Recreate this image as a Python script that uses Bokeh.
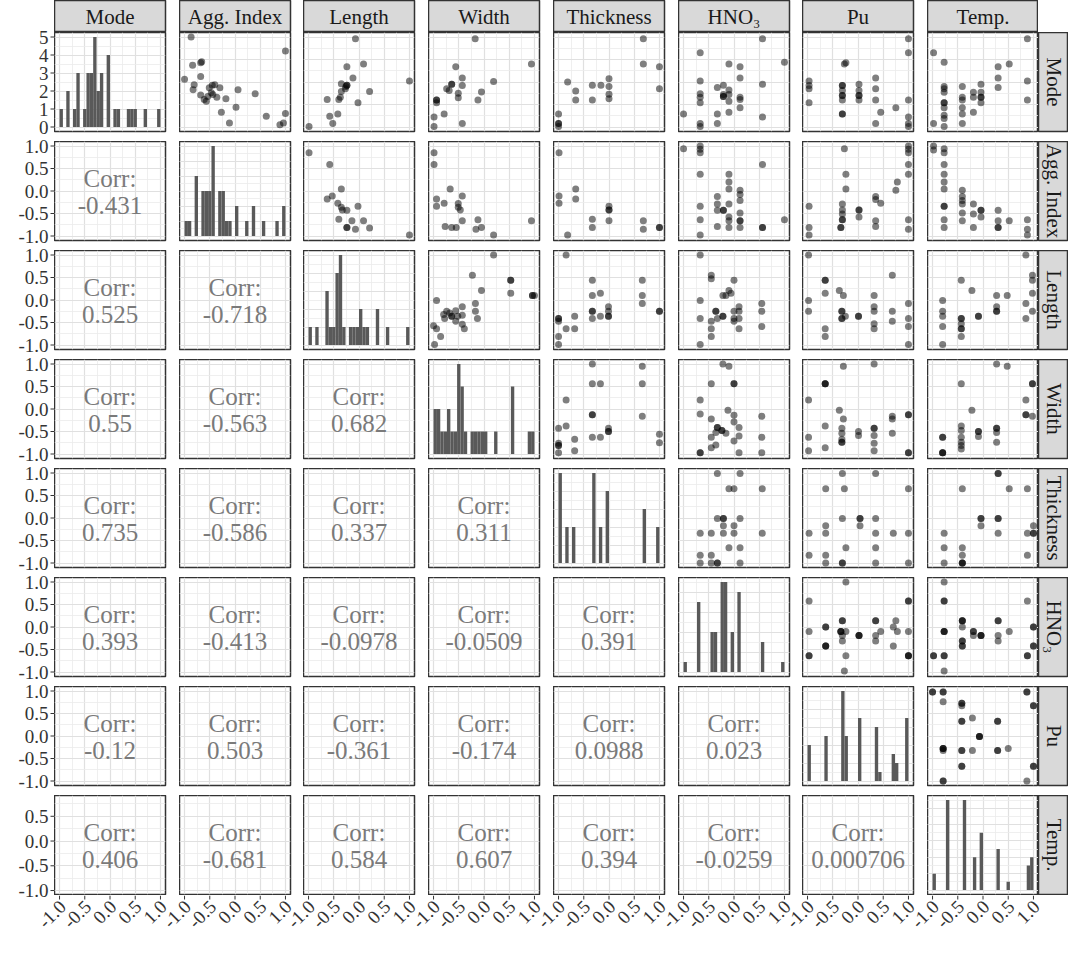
import math
from bokeh.plotting import figure
from bokeh.models import FixedTicker, BasicTicker, Range1d, GridBox
from bokeh.core.properties import value
from bokeh.embed import file_html
from bokeh.resources import INLINE

# ---------------- data ----------------
variables = ["Mode", "Agg. Index", "Length", "Width", "Thickness", "HNO\u2083", "Pu", "Temp."]

# histogram counts, 30 bins over [-1, 1]
hist_mode = [1,0,2,0,1,3,0,1,3,3,5,2,3,0,4,0,1,1,0,0,1,1,1,0,0,1,0,0,0,1]
hist_agg = [1,1,0,4,0,3,3,3,6,0,3,3,1,1,0,2,0,0,1,0,2,0,0,1,0,0,0,1,0,2]
hist_length = [1,0,1,0,0,3,1,1,4,5,1,0,1,1,1,2,1,1,0,0,2,0,0,1,0,0,0,0,0,1]
hist_width = [2,2,1,1,2,1,1,4,3,1,0,1,1,1,1,1,0,0,1,0,0,0,0,3,0,0,0,0,1,1]
hist_thick = [5,0,2,0,2,0,0,0,0,0,5,0,2,0,4,0,0,0,0,0,0,0,0,0,0,3,0,0,0,2]
hist_hno3 = [1,0,0,0,7,0,0,0,4,4,0,9,9,0,4,0,8,0,0,0,0,0,0,3,0,0,0,0,0,1]
hist_pu = [4,0,0,0,0,5,0,0,0,0,10,5,0,0,0,7,0,0,0,0,6,1,0,0,0,3,2,0,0,7]
hist_temp = [2,0,0,0,11,0,0,0,0,11,0,0,4,0,7,0,0,0,0,5,0,0,1,0,0,0,0,0,3,4]

# correlation labels (lower triangle, row by row)
corr_agg = ["-0.431"]
corr_length = ["0.525", "-0.718"]
corr_width = ["0.55", "-0.563", "0.682"]
corr_thick = ["0.735", "-0.586", "0.337", "0.311"]
corr_hno3 = ["0.393", "-0.413", "-0.0978", "-0.0509", "0.391"]
corr_pu = ["-0.12", "0.503", "-0.361", "-0.174", "0.0988", "0.023"]
corr_temp = ["0.406", "-0.681", "0.584", "0.607", "0.394", "-0.0259", "0.000706"]

var_ticks = [-1.0, -0.5, 0.0, 0.5, 1.0]
var_tick_labels = ["-1.0", "-0.5", "0.0", "0.5", "1.0"]
var_minor = [-0.75, -0.25, 0.25, 0.75]
mode_count_ticks = [0, 1, 2, 3, 4, 5]
mode_count_labels = ["0", "1", "2", "3", "4", "5"]
mode_count_minor = [0.5, 1.5, 2.5, 3.5, 4.5]

# scatter points (x variable, y variable)
pts_agg_mode = [(-0.87,1.0),(-0.84,0.37),(-0.66,0.45),(-0.68,0.43),(-1.0,0.06),(-0.81,-0.06),(-0.83,-0.17),(-0.68,0.12),(-0.68,-0.29),(-0.61,-0.39),(-0.57,-0.43),(-0.54,-0.32),(-0.47,-0.24),(-0.45,-0.07),(-0.40,-0.06),(-0.51,-0.13),(-0.44,-0.28),(-0.36,-0.34),(-0.30,-0.13),(-0.18,-0.37),(-0.27,-0.67),(-0.11,-0.91),(0.02,-0.56),(0.06,-0.17),(0.40,-0.26),(0.62,-0.76),(0.89,-0.95),(0.96,-0.91),(1.0,-0.70),(1.0,0.69)]
pts_length_mode = [(-0.07,0.96),(-0.24,0.34),(0.09,0.40),(-0.12,0.09),(-0.35,-0.04),(-0.24,-0.07),(-0.24,-0.07),(-0.26,-0.10),(-0.27,-0.15),(-0.35,-0.21),(-0.37,-0.34),(-0.40,-0.39),(-0.63,-0.39),(0.21,-0.21),(-0.02,-0.46),(1.0,0.02),(-0.58,-0.76),(-0.42,-0.71),(-0.52,-0.92),(-0.99,-0.99)]
pts_width_mode = [(-0.175,0.96),(-0.56,0.34),(0.94,0.40),(-0.43,0.09),(-0.64,-0.05),(-0.64,-0.05),(-0.74,-0.15),(-0.69,-0.19),(-0.51,-0.25),(-0.51,-0.35),(-0.43,-0.08),(-0.05,-0.22),(0.19,0.01),(-0.12,-0.40),(-0.94,-0.40),(-0.94,-0.40),(-0.94,-0.46),(-0.79,-0.71),(-0.99,-0.78),(-0.99,-0.99),(-0.43,-0.92)]
pts_thick_mode = [(0.68,0.96),(0.68,0.40),(1.0,0.34),(1.0,-0.15),(-0.82,0.0),(-0.66,-0.2),(-0.66,-0.4),(-0.33,-0.07),(-0.16,-0.07),(-0.33,-0.4),(0.0,0.07),(0.0,-0.1),(0.0,-0.27),(0.0,-0.37),(-1.0,-0.71),(-1.0,-0.92),(-1.0,-0.92),(-1.0,-0.99)]
pts_hno3_mode = [(0.565,0.96),(-0.67,0.65),(-0.10,0.40),(0.12,0.34),(1.0,0.44),(-0.67,0.02),(0.12,0.09),(0.565,-0.05),(-0.33,-0.12),(-0.21,-0.07),(-0.10,-0.18),(-0.21,-0.32),(-0.21,-0.32),(-0.21,-0.28),(-0.10,-0.43),(0.12,-0.34),(0.12,-0.39),(0.12,-0.57),(-0.10,-0.67),(-0.33,-0.71),(-0.33,-0.92),(-0.67,-0.26),(-0.67,-0.34),(-0.67,-0.46),(-1.0,-0.71),(-0.67,-0.92),(-0.67,-0.99),(0.565,-0.78),(-0.10,-0.28)]
pts_pu_mode = [(1.0,0.96),(1.0,0.65),(-0.27,0.40),(-0.24,0.43),(-0.97,0.02),(-0.97,-0.08),(-0.97,-0.15),(-0.97,-0.46),(-0.31,-0.08),(-0.31,-0.08),(-0.31,-0.19),(-0.31,-0.30),(-0.31,-0.30),(-0.31,-0.40),(0.02,-0.05),(0.02,-0.19),(0.02,-0.30),(0.02,-0.30),(0.02,-0.40),(0.35,0.09),(0.35,-0.15),(0.35,-0.40),(0.45,-0.67),(0.75,-0.57),(0.35,-0.92),(-0.31,-0.71),(-0.31,-0.71),(1.0,-0.40),(1.0,-0.78),(1.0,-0.92),(1.0,-0.99)]
pts_temp_mode = [(0.88,0.96),(-0.98,0.65),(-0.77,0.44),(0.30,0.34),(0.52,0.40),(0.30,0.09),(0.30,-0.12),(0.88,0.02),(0.88,-0.40),(-0.77,-0.10),(-0.77,-0.15),(-0.77,-0.23),(-0.77,-0.46),(-0.77,-0.46),(-0.77,-0.57),(-0.77,-0.74),(-0.77,-0.81),(-0.77,-0.99),(-0.41,-0.10),(-0.41,-0.34),(-0.41,-0.40),(-0.41,-0.57),(-0.41,-0.71),(-0.41,-0.92),(-0.19,-0.23),(-0.19,-0.34),(-0.19,-0.67),(-0.04,-0.05),(-0.04,-0.23),(-0.04,-0.34),(-0.04,-0.34),(-0.04,-0.46),(-0.98,-0.92)]

pts_length_agg = [(-0.99,0.85),(-0.58,0.59),(-0.35,0.045),(-0.63,-0.18),(-0.53,-0.11),(-0.42,-0.27),(-0.35,-0.36),(-0.33,-0.42),(-0.24,-0.43),(-0.02,-0.34),(-0.40,-0.63),(-0.14,-0.66),(0.09,-0.66),(-0.24,-0.81),(-0.24,-0.81),(-0.07,-0.85),(0.21,-0.82),(1.0,-0.98)]
pts_width_agg = [(-0.99,0.85),(-0.99,0.59),(-0.67,0.045),(-0.94,-0.18),(-0.94,-0.34),(-0.79,-0.27),(-0.43,-0.11),(-0.51,-0.28),(-0.51,-0.36),(-0.47,-0.42),(-0.43,-0.66),(-0.77,-0.79),(-0.64,-0.81),(-0.55,-0.81),(-0.16,-0.85),(-0.05,-0.81),(-0.12,-0.64),(0.19,-0.98),(0.94,-0.66)]
pts_thick_agg = [(-0.99,0.85),(-0.66,0.045),(-0.66,-0.18),(-0.99,-0.11),(-0.99,-0.27),(0.0,-0.34),(0.0,-0.42),(0.0,-0.42),(-0.33,-0.63),(-0.33,-0.81),(0.0,-0.66),(-0.82,-0.98),(0.68,-0.66),(0.68,-0.85),(1.0,-0.81),(1.0,-0.81)]
pts_hno3_agg = [(-1.0,0.94),(-0.67,1.0),(-0.67,0.93),(-0.67,0.85),(-0.67,0.37),(-0.67,-0.34),(-0.67,-0.64),(-0.67,-0.98),(0.565,0.59),(1.0,-0.64),(-0.10,0.37),(-0.10,0.20),(-0.10,0.045),(-0.33,-0.12),(-0.33,-0.29),(-0.33,-0.43),(-0.21,-0.43),(-0.21,-0.43),(-0.10,-0.29),(-0.10,-0.58),(-0.10,-0.66),(-0.10,-0.81),(0.12,0.015),(0.12,-0.08),(0.12,-0.21),(0.12,-0.49),(0.12,-0.66),(0.12,-0.66),(0.12,-0.81),(-0.33,-0.79),(0.565,-0.81),(0.565,-0.81)]
pts_pu_agg = [(-0.27,0.94),(1.0,1.0),(1.0,0.93),(1.0,0.85),(1.0,0.59),(1.0,0.37),(-0.24,0.37),(-0.24,0.045),(0.78,0.20),(0.75,0.015),(0.35,-0.12),(0.35,-0.19),(0.45,-0.27),(-0.97,-0.34),(-0.31,-0.29),(-0.31,-0.42),(-0.31,-0.51),(-0.31,-0.64),(-0.31,-0.64),(0.02,-0.42),(0.02,-0.42),(0.02,-0.58),(0.35,-0.66),(0.35,-0.79),(1.0,-0.64),(1.0,-0.85),(-0.97,-0.81),(-0.97,-0.98),(-0.34,-0.81),(-0.34,-0.81)]
pts_temp_agg = [(-0.98,1.0),(-0.98,0.91),(-0.77,0.94),(-0.77,0.85),(-0.77,0.59),(-0.77,0.37),(-0.77,0.20),(-0.77,0.045),(-0.77,-0.34),(-0.77,-0.34),(-0.77,-0.64),(-0.77,-0.81),(-0.41,0.015),(-0.41,-0.12),(-0.41,-0.21),(-0.41,-0.29),(-0.41,-0.49),(-0.41,-0.66),(-0.19,-0.29),(-0.19,-0.51),(-0.04,-0.43),(-0.04,-0.43),(-0.04,-0.58),(-0.19,-0.81),(0.30,-0.43),(0.30,-0.66),(0.30,-0.81),(0.30,-0.81),(0.52,-0.66),(0.88,-0.64),(0.88,-0.85),(0.88,-0.98)]

pts_width_length = [(0.19,1.0),(-0.23,0.55),(0.53,0.44),(0.53,0.44),(0.53,0.15),(-0.05,0.21),(0.96,0.10),(0.96,0.10),(1.0,0.10),(-0.94,-0.01),(-0.17,-0.08),(-0.17,-0.25),(-0.13,-0.41),(-0.43,-0.15),(-0.56,-0.24),(-0.74,-0.25),(-0.68,-0.29),(-0.64,-0.36),(-0.64,-0.36),(-0.52,-0.36),(-0.78,-0.41),(-0.80,-0.32),(-0.43,-0.34),(-0.56,-0.47),(-0.43,-0.54),(-0.39,-0.64),(-1.0,-0.57),(-0.94,-0.64),(-0.86,-0.81),(-0.98,-0.99)]
pts_thick_length = [(-0.85,1.0),(-0.33,0.44),(0.66,0.44),(-0.33,0.10),(-0.17,0.15),(0.66,0.10),(0.66,-0.08),(1.0,-0.25),(1.0,-0.25),(-0.33,-0.25),(-0.33,-0.25),(-0.33,-0.41),(-0.17,-0.36),(-0.01,-0.15),(-0.01,-0.25),(-0.01,-0.36),(-0.01,-0.36),(-1.0,-0.41),(-1.0,-0.41),(-1.0,-0.47),(-0.68,-0.36),(-0.85,-0.64),(-0.68,-0.64),(-1.0,-0.81),(-1.0,-0.99)]
pts_hno3_length = [(-0.67,1.0),(-0.45,0.55),(-0.45,0.47),(0.0,0.44),(-0.10,0.21),(-0.16,0.10),(-0.22,0.10),(-0.06,0.15),(-0.67,-0.01),(-0.36,-0.25),(-0.36,-0.25),(-0.22,-0.36),(-0.22,-0.36),(-0.33,-0.41),(-0.45,-0.47),(0.0,-0.25),(0.10,-0.15),(0.10,-0.25),(0.0,-0.41),(0.10,-0.41),(0.0,-0.47),(-0.45,-0.64),(0.10,-0.64),(-0.45,-0.81),(0.55,-0.08),(0.55,-0.25),(0.55,-0.59),(-0.67,-0.41),(-0.67,-0.99)]
pts_pu_length = [(-0.98,1.0),(-0.65,0.44),(-0.65,0.44),(-0.65,0.15),(-0.37,0.21),(-0.29,0.10),(-0.98,-0.01),(-0.98,-0.25),(-0.32,-0.25),(-0.32,-0.25),(-0.32,-0.41),(-0.32,-0.41),(0.01,-0.36),(0.01,-0.36),(0.32,0.10),(0.32,-0.15),(0.32,-0.25),(0.32,-0.53),(0.32,-0.64),(0.68,0.55),(0.68,-0.25),(0.68,-0.47),(1.0,-0.08),(1.0,-0.41),(1.0,-0.59),(1.0,-0.99),(-0.65,-0.64),(-0.65,-0.81),(-0.25,-0.36)]
pts_temp_length = [(0.85,1.0),(0.98,0.55),(0.98,0.44),(-0.43,0.44),(-0.22,0.21),(0.27,0.10),(0.48,0.10),(0.27,-0.15),(0.27,-0.25),(0.27,-0.25),(-0.09,-0.36),(-0.09,-0.36),(-0.43,-0.41),(-0.43,-0.41),(-0.43,-0.53),(-0.43,-0.64),(-0.43,-0.64),(-0.43,-0.81),(-0.80,-0.01),(-0.80,-0.25),(-0.80,-0.36),(-0.80,-0.59),(-0.80,-0.99),(0.85,-0.08),(0.98,0.15),(0.98,-0.25),(0.85,-0.41)]

pts_thick_width = [(-0.33,1.0),(0.66,0.95),(-0.33,0.56),(-0.17,0.56),(0.66,0.56),(-0.85,0.20),(-0.33,-0.13),(-0.33,-0.13),(0.66,-0.16),(-1.0,-0.43),(-0.85,-0.38),(-0.01,-0.43),(-0.01,-0.50),(-0.01,-0.50),(-0.33,-0.63),(-0.17,-0.63),(-0.68,-0.67),(-1.0,-0.76),(-1.0,-0.81),(-1.0,-0.81),(-1.0,-0.97),(-0.68,-0.93),(1.0,-0.56),(1.0,-0.75)]
pts_hno3_width = [(-0.22,1.0),(-0.10,0.95),(-0.45,0.56),(0.0,0.56),(0.0,0.56),(-0.67,0.20),(-0.67,-0.11),(-0.45,-0.22),(-0.12,-0.03),(0.0,-0.14),(-0.33,-0.41),(-0.33,-0.41),(-0.24,-0.48),(-0.24,-0.48),(-0.16,-0.54),(-0.36,-0.52),(-0.45,-0.63),(0.0,-0.29),(0.10,-0.41),(0.10,-0.60),(0.0,-0.71),(-0.36,-0.80),(-0.45,-0.86),(-0.67,-0.97),(-0.67,-0.97),(0.10,-0.97),(0.55,-0.16),(0.55,-0.63),(0.55,-0.97)]
pts_pu_width = [(-0.29,0.95),(0.32,1.0),(-0.65,0.56),(-0.65,0.56),(-0.65,0.56),(-0.98,0.20),(-0.37,-0.03),(-0.29,-0.22),(-0.65,-0.38),(-0.32,-0.43),(-0.32,-0.54),(-0.32,-0.67),(-0.32,-0.74),(-0.32,-0.74),(0.01,-0.50),(0.01,-0.59),(0.32,-0.43),(0.32,-0.43),(0.32,-0.59),(0.32,-0.76),(0.32,-0.93),(-0.98,-0.63),(-0.98,-0.93),(-0.65,-0.86),(0.68,-0.16),(0.68,-0.22),(0.68,-0.54),(1.0,-0.13),(1.0,-0.13),(1.0,-0.97),(1.0,-0.97)]
pts_temp_width = [(0.27,1.0),(0.48,0.95),(-0.43,0.56),(0.98,0.56),(0.98,0.56),(0.85,0.20),(-0.22,-0.03),(0.85,-0.13),(0.85,-0.13),(0.98,-0.16),(-0.43,-0.38),(-0.43,-0.48),(-0.43,-0.63),(-0.43,-0.74),(-0.43,-0.81),(-0.80,-0.63),(-0.80,-0.63),(-0.80,-0.97),(-0.80,-0.97),(-0.80,-0.97),(-0.09,-0.50),(-0.09,-0.50),(-0.09,-0.61),(0.27,-0.43),(0.27,-0.43),(0.27,-0.52),(0.27,-0.74),(-0.43,-0.89)]

pts_hno3_thick = [(-0.33,0.99),(0.12,0.99),(-0.10,0.65),(0.0,0.65),(0.56,0.65),(-0.33,-0.01),(-0.21,-0.01),(-0.21,-0.01),(0.12,-0.01),(-0.21,-0.17),(0.0,-0.17),(-0.67,-0.34),(-0.45,-0.34),(-0.21,-0.34),(0.0,-0.34),(0.56,-0.34),(-0.10,-0.66),(0.12,-0.66),(-0.67,-0.83),(-0.45,-0.83),(-0.67,-1.0),(-0.45,-1.0),(-0.33,-1.0),(-0.33,-1.0),(0.12,-1.0)]
pts_pu_thick = [(-0.31,0.99),(0.35,0.99),(-0.64,0.65),(-0.27,0.65),(1.0,0.65),(-0.31,-0.01),(0.04,-0.01),(0.04,-0.01),(0.35,-0.01),(-0.64,-0.17),(0.04,-0.17),(-0.97,-0.34),(-0.64,-0.34),(0.35,-0.34),(0.70,-0.34),(1.0,-0.34),(-0.24,-0.66),(0.35,-0.66),(-0.97,-0.83),(-0.64,-0.83),(-0.64,-1.0),(-0.31,-1.0),(-0.31,-1.0),(0.35,-1.0),(1.0,-1.0)]
pts_temp_thick = [(0.30,0.99),(0.30,0.99),(-0.41,0.65),(0.52,0.65),(0.88,0.65),(-0.04,-0.01),(-0.04,-0.01),(0.30,-0.01),(0.30,-0.01),(-0.04,-0.17),(1.0,-0.17),(-0.77,-0.34),(0.30,-0.34),(0.88,-0.34),(1.0,-0.34),(1.0,-0.34),(-0.77,-0.66),(-0.41,-0.66),(-0.41,-0.83),(0.88,-0.83),(-0.77,-1.0),(-0.41,-1.0),(-0.41,-1.0),(-0.41,-1.0)]

pts_pu_hno3 = [(-0.24,1.0),(-0.97,0.58),(1.0,0.58),(1.0,0.58),(-0.31,0.14),(-0.31,0.14),(0.35,0.14),(0.35,0.14),(-0.64,0.0),(-0.64,0.0),(0.75,0.14),(0.70,0.0),(-0.97,-0.10),(-0.34,-0.10),(-0.34,-0.10),(-0.34,-0.10),(-0.24,-0.10),(0.02,-0.19),(0.02,-0.19),(0.02,-0.19),(0.35,-0.19),(0.45,-0.10),(0.78,-0.10),(1.0,-0.10),(-0.31,-0.19),(-0.31,-0.31),(0.35,-0.31),(-0.64,-0.42),(-0.64,-0.42),(-0.64,-0.42),(0.70,-0.42),(-0.97,-0.64),(-0.97,-0.64),(-0.24,-0.64),(1.0,-0.64),(1.0,-0.64),(1.0,-0.64),(-0.27,-0.98)]
pts_temp_hno3 = [(-0.77,1.0),(-0.77,0.58),(-0.77,0.58),(0.88,0.58),(-0.41,0.14),(-0.41,0.14),(-0.41,0.14),(-0.41,0.0),(0.30,0.14),(0.30,0.14),(-0.77,-0.10),(-0.77,-0.10),(-0.77,-0.10),(-0.19,-0.10),(-0.19,-0.10),(-0.19,-0.19),(-0.04,-0.19),(-0.04,-0.19),(-0.04,-0.19),(0.30,-0.19),(0.30,-0.31),(0.52,-0.10),(1.0,0.0),(1.0,0.0),(-0.41,-0.31),(-0.41,-0.31),(-0.41,-0.42),(-0.41,-0.42),(1.0,-0.42),(1.0,-0.42),(-0.98,-0.64),(-0.98,-0.64),(-0.77,-0.64),(-0.77,-0.64),(0.88,-0.64),(0.88,-0.64),(-0.77,-0.98)]
pts_temp_pu = [(-1.0,0.98),(-1.0,0.98),(-0.79,0.98),(-0.79,0.98),(-0.79,0.76),(-0.42,0.73),(-0.42,0.73),(-0.42,0.67),(0.87,0.98),(0.87,0.98),(1.0,0.67),(1.0,0.67),(-0.42,0.33),(-0.42,0.33),(-0.21,0.40),(0.29,0.33),(0.29,0.33),(-0.07,-0.01),(-0.07,-0.01),(-0.07,-0.01),(-0.79,-0.28),(-0.79,-0.28),(-0.79,-0.28),(-0.79,-0.32),(-0.42,-0.32),(-0.42,-0.32),(-0.21,-0.32),(0.29,-0.32),(0.29,-0.32),(0.50,-0.28),(-0.42,-0.67),(-0.42,-0.67),(1.0,-0.67),(1.0,-0.67),(-0.79,-1.0),(-0.79,-1.0),(0.87,-1.0)]

# ---------------- assembly ----------------
hists = [hist_mode, hist_agg, hist_length, hist_width, hist_thick, hist_hno3, hist_pu, hist_temp]
corrs = [None, corr_agg, corr_length, corr_width, corr_thick, corr_hno3, corr_pu, corr_temp]
scatter = {
    (0, 1): pts_agg_mode, (0, 2): pts_length_mode, (0, 3): pts_width_mode, (0, 4): pts_thick_mode,
    (0, 5): pts_hno3_mode, (0, 6): pts_pu_mode, (0, 7): pts_temp_mode,
    (1, 2): pts_length_agg, (1, 3): pts_width_agg, (1, 4): pts_thick_agg, (1, 5): pts_hno3_agg,
    (1, 6): pts_pu_agg, (1, 7): pts_temp_agg,
    (2, 3): pts_width_length, (2, 4): pts_thick_length, (2, 5): pts_hno3_length,
    (2, 6): pts_pu_length, (2, 7): pts_temp_length,
    (3, 4): pts_thick_width, (3, 5): pts_hno3_width, (3, 6): pts_pu_width, (3, 7): pts_temp_width,
    (4, 5): pts_hno3_thick, (4, 6): pts_pu_thick, (4, 7): pts_temp_thick,
    (5, 6): pts_pu_hno3, (5, 7): pts_temp_hno3,
    (6, 7): pts_temp_pu,
}

FONT = "Liberation Serif"
PANEL_W, PANEL_H = 111, 99
LEFT = 54
GAPS_X = [14, 13, 14, 14, 14, 13, 14, 0]
GAP_Y = 10
LAST_GAP_Y = 1
STRIP_H = 32
STRIP_W = 30
BOTTOM_H = 42
TICK_LEN = 4
VAR_RANGE = (-1.1, 1.1)
TEMP_Y_RANGE = (-1.08, 0.92)
N_BINS = 30
BIN_W = 2.0 / N_BINS

BAR_COLOR = "#595959"
CORR_COLOR = "#7a7a7a"
BORDER = "#333333"
STRIP_FILL = "#d9d9d9"
AXIS_TEXT = "#333333"

col_lefts = [LEFT + sum(PANEL_W + GAPS_X[k] for k in range(j)) for j in range(8)]
row_tops = [STRIP_H + i * (PANEL_H + GAP_Y) for i in range(8)]
TOTAL_W = LEFT + sum(PANEL_W + g for g in GAPS_X) + STRIP_W
TOTAL_H = STRIP_H + 7 * (PANEL_H + GAP_Y) + PANEL_H + LAST_GAP_Y + BOTTOM_H


def y_range_for(i, j):
    if i == j:
        m = max(hists[i])
        return (-0.05 * m, 1.05 * m)
    if i == 7:
        return TEMP_Y_RANGE
    return VAR_RANGE


def style_grid(g, ticker):
    g.ticker = ticker
    g.grid_line_color = "#e0e0e0"
    g.grid_line_width = 1.2
    g.minor_grid_line_color = "#ebebeb"
    g.minor_grid_line_width = 0.8


def make_panel(i, j):
    right = GAPS_X[j]
    bottom = LAST_GAP_Y if i == 7 else GAP_Y
    y0, y1 = y_range_for(i, j)
    p = figure(width=PANEL_W + right, height=PANEL_H + bottom,
               x_range=Range1d(*VAR_RANGE), y_range=Range1d(y0, y1),
               output_backend="svg", toolbar_location=None,
               x_axis_location=None, y_axis_location=None,
               min_border_left=0, min_border_right=right,
               min_border_top=0, min_border_bottom=bottom,
               outline_line_color=BORDER, outline_line_width=1.5,
               background_fill_color="white", border_fill_color="white")
    xt = FixedTicker(ticks=var_ticks, minor_ticks=var_minor)
    if i == j:
        if i == 0:
            yt = FixedTicker(ticks=mode_count_ticks, minor_ticks=mode_count_minor)
        else:
            yt = BasicTicker(desired_num_ticks=5, num_minor_ticks=2)
    else:
        yt = FixedTicker(ticks=var_ticks, minor_ticks=var_minor)
    for g in p.xgrid:
        style_grid(g, xt)
    for g in p.ygrid:
        style_grid(g, yt)

    if i == j:
        counts = hists[i]
        lefts = [-1.0 + k * BIN_W for k in range(N_BINS) if counts[k] > 0]
        tops = [c for c in counts if c > 0]
        p.quad(left=lefts, right=[l + BIN_W for l in lefts], top=tops, bottom=0,
               fill_color=BAR_COLOR, line_color=None)
    elif i > j:
        mid = (y0 + y1) / 2.0
        span = y1 - y0
        p.text(x=[0.0, 0.0], y=[mid + 0.13 * span, mid - 0.15 * span],
               text=["Corr:", corrs[i][j]], text_align="center", text_baseline="middle",
               text_font=value(FONT), text_font_size="25px", text_color=CORR_COLOR)
    else:
        pts = scatter[(i, j)]
        p.scatter([a for a, b in pts], [b for a, b in pts], size=7,
                  fill_color="black", fill_alpha=0.5, line_color=None)
    return p


def make_top_strip(j):
    right = GAPS_X[j]
    s = figure(width=PANEL_W + right, height=STRIP_H, x_range=(0, 1), y_range=(0, 1),
               x_axis_location=None, y_axis_location=None, output_backend="svg",
               toolbar_location=None, min_border_left=0, min_border_right=right,
               min_border_top=0, min_border_bottom=0,
               background_fill_color=STRIP_FILL, outline_line_color=BORDER,
               outline_line_width=1.5, border_fill_color="white")
    s.grid.visible = False
    s.text(x=[0.5], y=[0.5], text=[variables[j]], text_align="center",
           text_baseline="middle", text_font=value(FONT), text_font_size="21px",
           text_color="#1a1a1a")
    return s


def make_right_strip(i):
    bottom = LAST_GAP_Y if i == 7 else GAP_Y
    s = figure(width=STRIP_W, height=PANEL_H + bottom, x_range=(0, 1), y_range=(0, 1),
               x_axis_location=None, y_axis_location=None, output_backend="svg",
               toolbar_location=None, min_border_left=0, min_border_right=0,
               min_border_top=0, min_border_bottom=bottom,
               background_fill_color=STRIP_FILL, outline_line_color=BORDER,
               outline_line_width=1.5, border_fill_color="white")
    s.grid.visible = False
    s.text(x=[0.5], y=[0.5], text=[variables[i]], angle=-math.pi / 2,
           text_align="center", text_baseline="middle", text_font=value(FONT),
           text_font_size="21px", text_color="#1a1a1a")
    return s


# ---- shared left tick labels: positions from each row's own scale ----
left_pos, left_labs = [], []
for i in range(8):
    y0, y1 = y_range_for(i, 0)
    if i == 0:
        tv, tl = mode_count_ticks, mode_count_labels
    else:
        tv, tl = var_ticks, var_tick_labels
    for v, lab in zip(tv, tl):
        if y0 <= v <= y1:
            left_pos.append(-(row_tops[i] + (y1 - v) / (y1 - y0) * PANEL_H))
            left_labs.append(lab)

left_fig = figure(width=LEFT, height=TOTAL_H, x_range=Range1d(0, LEFT), y_range=Range1d(-TOTAL_H, 0),
                  x_axis_location=None, y_axis_location=None, output_backend="svg",
                  toolbar_location=None, min_border=0, outline_line_color=None,
                  background_fill_color=None, border_fill_color=None)
left_fig.grid.visible = False
left_fig.segment(x0=[LEFT - TICK_LEN] * len(left_pos), x1=[LEFT] * len(left_pos),
                 y0=left_pos, y1=left_pos, line_color=BORDER, line_width=1)
left_fig.text(x=[LEFT - TICK_LEN - 2] * len(left_pos), y=left_pos, text=left_labs,
              text_align="right", text_baseline="middle", text_font=value(FONT),
              text_font_size="19px", text_color=AXIS_TEXT)

# ---- shared bottom tick labels: positions from each column's own scale ----
bottom_pos, bottom_labs = [], []
for j in range(8):
    for v, lab in zip(var_ticks, var_tick_labels):
        bottom_pos.append(col_lefts[j] + (v - VAR_RANGE[0]) / (VAR_RANGE[1] - VAR_RANGE[0]) * PANEL_W)
        bottom_labs.append(lab)

bottom_fig = figure(width=TOTAL_W, height=BOTTOM_H, x_range=Range1d(0, TOTAL_W), y_range=Range1d(-BOTTOM_H, 0),
                    x_axis_location=None, y_axis_location=None, output_backend="svg",
                    toolbar_location=None, min_border=0, outline_line_color=None,
                    background_fill_color=None, border_fill_color=None)
bottom_fig.grid.visible = False
bottom_fig.segment(x0=bottom_pos, x1=bottom_pos, y0=[0] * len(bottom_pos),
                   y1=[-TICK_LEN] * len(bottom_pos), line_color=BORDER, line_width=1)
bottom_fig.text(x=[p + 3 for p in bottom_pos], y=[-TICK_LEN - 4] * len(bottom_pos), text=bottom_labs,
                angle=math.pi / 4, text_align="right", text_baseline="middle",
                text_font=value(FONT), text_font_size="19px", text_color=AXIS_TEXT)

children = []
for j in range(8):
    children.append((make_top_strip(j), 0, j + 1))
for i in range(8):
    for j in range(8):
        children.append((make_panel(i, j), i + 1, j + 1))
    children.append((make_right_strip(i), i + 1, 9))
children.append((left_fig, 0, 0, 10, 1))
children.append((bottom_fig, 9, 0, 1, 10))

layout = GridBox(children=children, spacing=0)

open("out.html", "w").write(file_html(layout, INLINE))
